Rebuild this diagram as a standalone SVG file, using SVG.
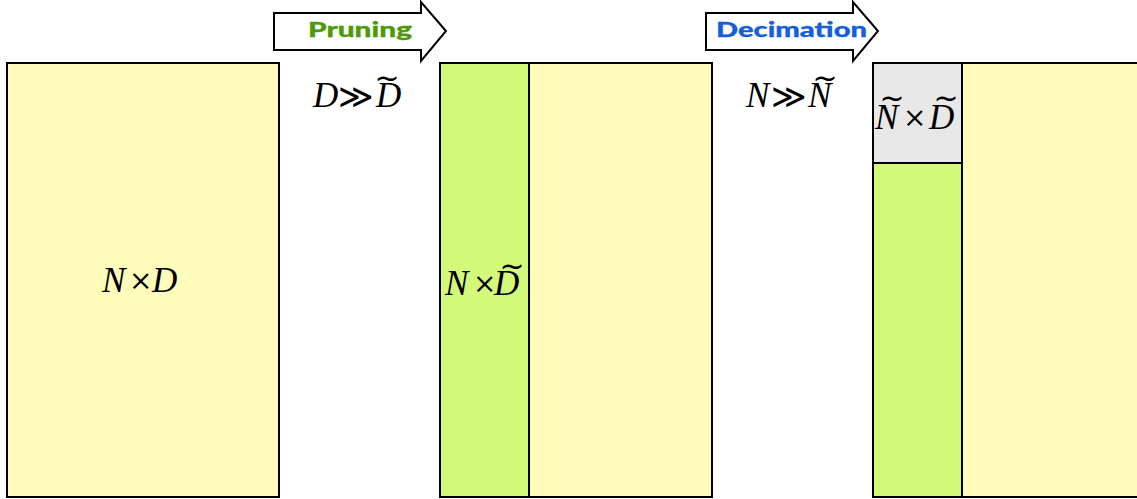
<svg xmlns="http://www.w3.org/2000/svg" width="1137" height="499" viewBox="0 0 1137 499">
<style>
.y{fill:#FFFCBB;stroke:#000;stroke-width:2}
.g{fill:#D4F97A;stroke:#000;stroke-width:2}
.gr{fill:#E8E8E8;stroke:#000;stroke-width:2}
.m{font-family:"Liberation Serif","DejaVu Serif",serif;font-style:italic;font-size:35px;fill:#000}
.op{font-family:"DejaVu Serif","Liberation Serif",serif;font-style:normal;font-size:28px}
.gg{font-family:"DejaVu Serif","Liberation Serif",serif;font-style:normal;font-size:34px}
.tl{font-family:"DejaVu Sans",sans-serif;font-style:normal;font-size:30px;text-anchor:middle}
.arr{fill:#fff;stroke:#000;stroke-width:2}
.lbl{font-family:Lato,"Liberation Sans",sans-serif;font-weight:900;font-size:21px;stroke-width:0.3}
</style>
<g id="arrows">
<g id="pruning-arrow">
<polygon class="arr" points="274,13 421,13 421,2 446,31 421,61 421,50 274,50"/>
<text class="lbl" x="308" y="37" fill="#4E9A06" stroke="#4E9A06" textLength="104" lengthAdjust="spacingAndGlyphs">Pruning</text>
</g>
<g id="decimation-arrow">
<polygon class="arr" points="706,13 853,13 853,2 878,31 853,61 853,50 706,50"/>
<text class="lbl" x="716" y="37" fill="#1560D8" stroke="#1560D8" textLength="151" lengthAdjust="spacingAndGlyphs">Decimation</text>
</g>
</g>
<g id="matrix-full">
<rect class="y" x="7" y="63" width="272" height="434"/>
<text class="m"><tspan x="102" y="292">N</tspan><tspan class="op" x="129" y="290">×</tspan><tspan x="152" y="292">D</tspan></text>
</g>
<g id="cond1">
<text class="m"><tspan x="313" y="107">D</tspan><tspan class="gg" x="338" y="108">≫</tspan><tspan x="376" y="107">D</tspan><tspan class="tl" x="387" y="88">~</tspan></text>
</g>
<g id="matrix-pruned">
<rect class="y" x="529" y="63" width="183" height="434"/>
<rect class="g" x="440" y="63" width="89" height="434"/>
<text class="m"><tspan x="445" y="295">N</tspan><tspan class="op" x="473" y="293">×</tspan><tspan x="494" y="295">D</tspan><tspan class="tl" x="512" y="276">~</tspan></text>
</g>
<g id="cond2">
<text class="m"><tspan x="746" y="107">N</tspan><tspan class="gg" x="771" y="108">≫</tspan><tspan x="808" y="107">N</tspan><tspan class="tl" x="825" y="88">~</tspan></text>
</g>
<g id="matrix-decimated">
<rect class="y" x="962" y="63" width="180" height="434"/>
<rect class="g" x="873" y="163" width="89" height="334"/>
<rect class="gr" x="873" y="63" width="89" height="100"/>
<text class="m"><tspan x="875" y="129">N</tspan><tspan class="tl" x="892" y="108">~</tspan><tspan class="op" x="903" y="127">×</tspan><tspan x="929" y="129">D</tspan><tspan class="tl" x="946" y="108">~</tspan></text>
</g>
</svg>
